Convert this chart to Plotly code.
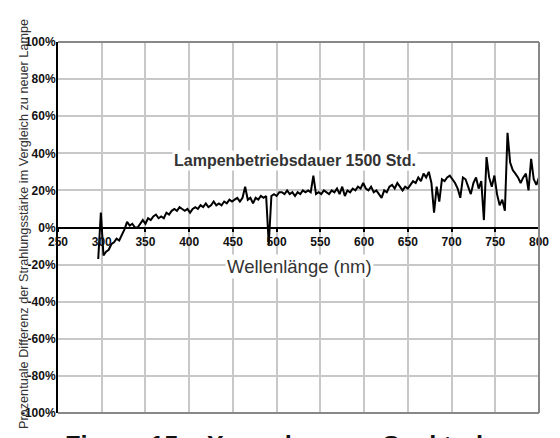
import plotly.graph_objects as go

# Wavelength samples (nm), 3 nm spacing from 296 to 800
wavelengths = list(range(296, 801, 3))

# Percent difference in irradiance vs. new lamp
diff_pct = [
    -17, 8, -15, -13, -12, -9, -8, -6, -7, -4,
    -1, 3, 1, 2, 0, 0, 2, 4, 2, 5,
    4, 6, 7, 5, 6, 5, 8, 7, 9, 10,
    9, 11, 10, 9, 10, 8, 10, 11, 10, 12,
    11, 13, 11, 12, 14, 12, 13, 12, 14, 13,
    15, 14, 15, 16, 14, 16, 22, 15, 16, 13,
    16, 15, 17, 16, 17, -9, 17, 18, 17, 19,
    19, 18, 20, 18, 19, 17, 19, 18, 20, 19,
    20, 19, 28, 18, 19, 18, 20, 19, 18, 20,
    19, 21, 18, 22, 17, 20, 19, 21, 20, 22,
    21, 24, 21, 20, 22, 19, 20, 18, 16, 20,
    19, 22, 23, 21, 24, 22, 20, 22, 21, 23,
    25, 24, 27, 25, 29, 27, 30, 24, 8, 22,
    14, 26, 25, 27, 28, 26, 24, 21, 16, 27,
    26, 22, 18, 24, 27, 21, 25, 4, 38, 27,
    22, 28, 18, 12, 15, 9, 51, 35, 31, 29,
    27, 24, 27, 29, 20, 37, 26, 23, 27,
]

x_tick_vals = [250, 300, 350, 400, 450, 500, 550, 600, 650, 700, 750, 800]
x_tick_text = ["250", "300", "350", "400", "450", "500", "550", "600", "650", "700", "750", "800"]
y_tick_vals = [100, 80, 60, 40, 20, 0, -20, -40, -60, -80, -100]
y_tick_text = ["100%", "80%", "60%", "40%", "20%", "0%", "-20%", "-40%", "-60%", "-80%", "-100%"]

series_label = "Lampenbetriebsdauer 1500 Std."
x_title = "Wellenlänge (nm)"
y_title = "Prozentuale Differenz der Strahlungsstärke im Vergleich zu neuer Lampe"
caption = "Figure 15 – Xenonlampen-Spektral"

narrow = "Liberation Sans Narrow, Arial Narrow, Liberation Sans, sans-serif"
sans = "Liberation Sans, Arial, Helvetica, sans-serif"

fig = go.Figure()
fig.add_trace(go.Scatter(
    x=wavelengths, y=diff_pct, mode="lines",
    line=dict(color="black", width=2),
    showlegend=False, hoverinfo="skip",
))

fig.update_layout(
    width=560, height=438,
    margin=dict(l=58, r=11, t=42, b=25),
    paper_bgcolor="white", plot_bgcolor="white",
    xaxis=dict(
        range=[250, 800], tickvals=x_tick_vals, ticktext=x_tick_text,
        showgrid=True, gridcolor="#c8c8c8", gridwidth=1.5,
        anchor="free", position=0.5,
        showline=True, linecolor="black", linewidth=2,
        ticks="outside", ticklen=3, tickwidth=1.5, tickcolor="black",
        tickfont=dict(family=narrow, size=12, color="#111", weight="bold"),
        zeroline=False,
    ),
    yaxis=dict(
        range=[-100, 100], tickvals=y_tick_vals, ticktext=y_tick_text,
        showgrid=True, gridcolor="#c8c8c8", gridwidth=1.5,
        showline=True, linecolor="black", linewidth=2,
        ticks="", ticklabelstandoff=-2,
        tickfont=dict(family=narrow, size=12, color="#111", weight="bold"),
        zeroline=False,
    ),
    shapes=[
        dict(type="line", xref="paper", yref="paper", x0=0, x1=1, y0=1, y1=1,
             line=dict(color="#888", width=2), layer="above"),
        dict(type="line", xref="paper", yref="paper", x0=0, x1=1, y0=0, y1=0,
             line=dict(color="#888", width=2), layer="above"),
        dict(type="line", xref="paper", yref="paper", x0=1, x1=1, y0=0, y1=1,
             line=dict(color="#888", width=2), layer="above"),
    ],
    annotations=[
        dict(text=series_label, x=521, y=36.2, xref="x", yref="y",
             showarrow=False, bgcolor="white",
             font=dict(family=sans, size=16, color="#333", weight="bold")),
        dict(text=x_title, x=526, y=-20.8, xref="x", yref="y",
             showarrow=False, bgcolor="white",
             font=dict(family=sans, size=18.5, color="#333")),
        dict(text=y_title, x=-0.0896, y=0.509, xref="paper", yref="paper",
             textangle=-90, showarrow=False,
             font=dict(family=sans, size=12.7, color="#333")),
        dict(text=caption, x=0.01, y=-0.044, xref="paper", yref="paper",
             xanchor="left", yanchor="top", showarrow=False,
             font=dict(family=sans, size=25.5, color="#111", weight="bold")),
    ],
)

fig.write_html("out.html")
